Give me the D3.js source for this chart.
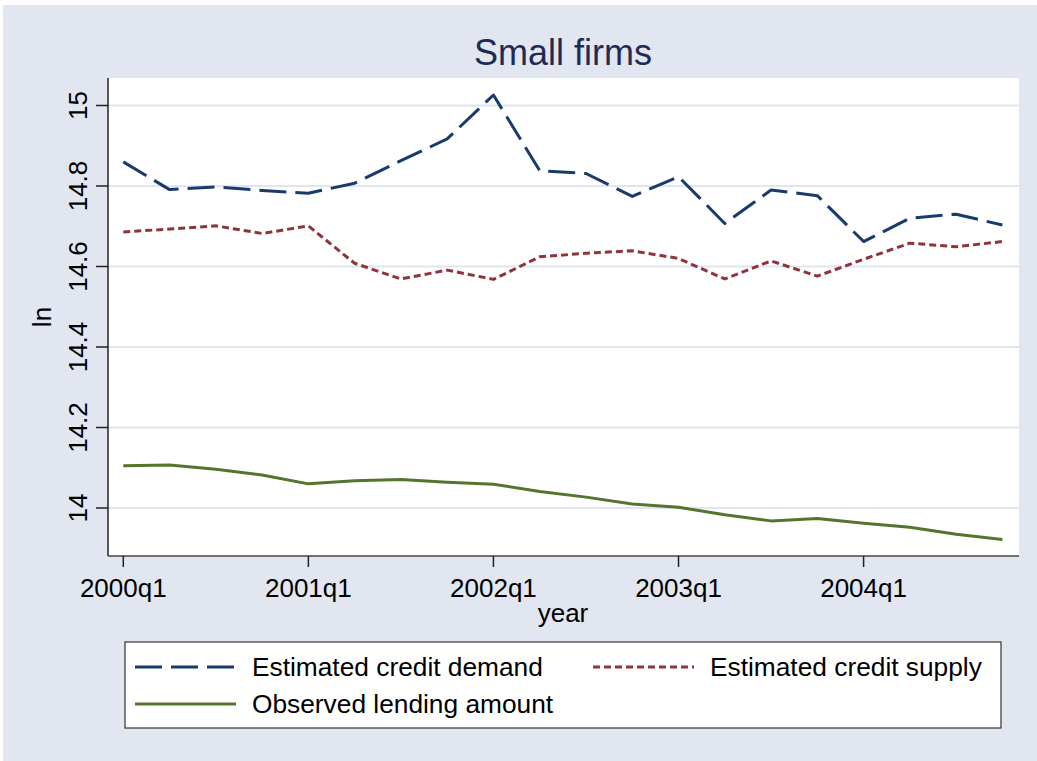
<!DOCTYPE html>
<html>
<head>
<meta charset="utf-8">
<script src="https://cdn.jsdelivr.net/npm/d3@7"></script>
<style>
  html, body { margin: 0; padding: 0; background: #ffffff; }
  svg { display: block; }
  text { font-family: "Liberation Sans", Arial, Helvetica, sans-serif; }
</style>
</head>
<body>
<svg id="chart" width="1037" height="761"></svg>
<script>
// ---- data ----
const quarters = ["2000q1","2000q2","2000q3","2000q4","2001q1","2001q2","2001q3","2001q4",
                  "2002q1","2002q2","2002q3","2002q4","2003q1","2003q2","2003q3","2003q4",
                  "2004q1","2004q2","2004q3","2004q4"];
const demand   = [14.860,14.791,14.798,14.789,14.782,14.807,14.863,14.917,15.026,14.838,
                  14.831,14.774,14.823,14.707,14.790,14.776,14.662,14.720,14.730,14.703];
const supply   = [14.686,14.693,14.701,14.682,14.701,14.608,14.569,14.591,14.568,14.624,
                  14.633,14.639,14.620,14.569,14.614,14.576,14.618,14.658,14.649,14.662];
const observed = [14.105,14.107,14.096,14.082,14.060,14.068,14.071,14.064,14.059,14.041,
                  14.027,14.010,14.002,13.983,13.968,13.974,13.962,13.952,13.935,13.922];
const yTicks = [14, 14.2, 14.4, 14.6, 14.8, 15];
const yTickLabels = ["14", "14.2", "14.4", "14.6", "14.8", "15"];
const xTickIdx = [0, 4, 8, 12, 16];
const seriesNames = ["Estimated credit demand", "Estimated credit supply", "Observed lending amount"];
const titleText = "Small firms";
const xTitle = "year";
const yTitle = "ln";

// ---- layout ----
const svg = d3.select("#chart");
const W = 1037, H = 761;
const plot = {left: 108, right: 1019, top: 78, bottom: 556};
const bg = "#e1e6f0";
const colors = ["#1a3a6c", "#8f343a", "#55752f"];
const dashes = ["27,9", "7,4", null];

svg.append("rect").attr("x", 0).attr("y", 0).attr("width", W).attr("height", H).attr("fill", "#ffffff");
svg.append("rect").attr("x", 3).attr("y", 5).attr("width", W - 3).attr("height", H - 5).attr("fill", bg);

svg.append("rect")
  .attr("x", plot.left).attr("y", plot.top)
  .attr("width", plot.right - plot.left).attr("height", plot.bottom - plot.top)
  .attr("fill", "#ffffff");

const x = d3.scaleLinear().domain([0, 19]).range([123.3, 1002.4]);
const y = d3.scaleLinear().domain([14, 15]).range([508, 105.5]);

// gridlines
svg.append("g").selectAll("line").data(yTicks).join("line")
  .attr("x1", plot.left).attr("x2", plot.right)
  .attr("y1", d => y(d)).attr("y2", d => y(d))
  .attr("stroke", "#e0e5ef").attr("stroke-width", 2);

// lines
const seriesData = [demand, supply, observed];
const line = d3.line().x((d, i) => x(i)).y(d => y(d));
seriesData.forEach((s, k) => {
  const p = svg.append("path").datum(s)
    .attr("d", line)
    .attr("fill", "none")
    .attr("stroke", colors[k])
    .attr("stroke-width", 3)
    .attr("stroke-linejoin", "round");
  if (dashes[k]) p.attr("stroke-dasharray", dashes[k]);
});

// axes
const axisColor = "#222222";
svg.append("line").attr("x1", plot.left).attr("x2", plot.left)
  .attr("y1", plot.top).attr("y2", plot.bottom)
  .attr("stroke", axisColor).attr("stroke-width", 1.5);
svg.append("line").attr("x1", plot.left).attr("x2", plot.right)
  .attr("y1", plot.bottom).attr("y2", plot.bottom)
  .attr("stroke", "#444444").attr("stroke-width", 1.5);

// y ticks
svg.append("g").selectAll("line").data(yTicks).join("line")
  .attr("x1", 96).attr("x2", plot.left)
  .attr("y1", d => y(d)).attr("y2", d => y(d))
  .attr("stroke", axisColor).attr("stroke-width", 1.5);
svg.append("g").selectAll("text").data(yTicks).join("text")
  .attr("transform", d => `translate(87,${y(d)}) rotate(-90)`)
  .attr("text-anchor", "middle")
  .attr("font-size", 26)
  .attr("fill", "#000")
  .text((d, i) => yTickLabels[i]);

// x ticks
svg.append("g").selectAll("line").data(xTickIdx).join("line")
  .attr("x1", d => x(d)).attr("x2", d => x(d))
  .attr("y1", plot.bottom).attr("y2", 567)
  .attr("stroke", axisColor).attr("stroke-width", 1.5);
svg.append("g").selectAll("text").data(xTickIdx).join("text")
  .attr("x", d => x(d)).attr("y", 597)
  .attr("text-anchor", "middle")
  .attr("font-size", 26)
  .attr("fill", "#000")
  .text(d => quarters[d]);

// axis titles
svg.append("text").attr("x", 563).attr("y", 622)
  .attr("text-anchor", "middle").attr("font-size", 26).attr("fill", "#000").text(xTitle);
svg.append("text").attr("transform", `translate(50.5,317) rotate(-90)`)
  .attr("text-anchor", "middle").attr("font-size", 26).attr("fill", "#000").text(yTitle);

// title
svg.append("text").attr("x", 563).attr("y", 65)
  .attr("text-anchor", "middle").attr("font-size", 36).attr("fill", "#1e2b55").text(titleText);

// legend
const lg = svg.append("g");
lg.append("rect").attr("x", 125).attr("y", 642).attr("width", 876).attr("height", 86)
  .attr("fill", "#ffffff").attr("stroke", "#333333").attr("stroke-width", 1.2);
const legendPos = [
  {x0: 135, x1: 236, tx: 252, y: 667},
  {x0: 593, x1: 694, tx: 710, y: 667},
  {x0: 135, x1: 236, tx: 252, y: 704}
];
legendPos.forEach((p, k) => {
  const l = lg.append("line").attr("x1", p.x0).attr("x2", p.x1).attr("y1", p.y).attr("y2", p.y)
    .attr("stroke", colors[k]).attr("stroke-width", 3);
  if (dashes[k]) l.attr("stroke-dasharray", dashes[k]);
  lg.append("text").attr("x", p.tx).attr("y", p.y + 9)
    .attr("font-size", 26.3).attr("fill", "#000").text(seriesNames[k]);
});
</script>
</body>
</html>
